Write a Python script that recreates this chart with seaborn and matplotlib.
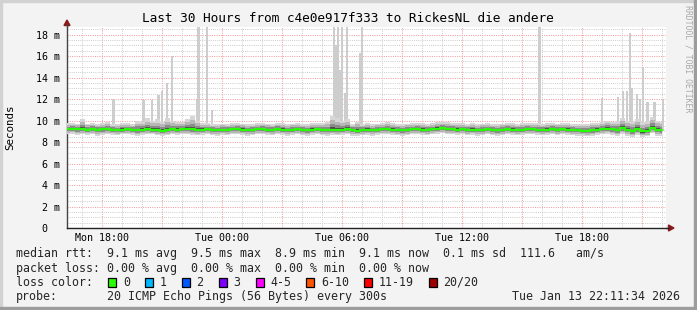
import numpy as np
import matplotlib
matplotlib.use("Agg")
import matplotlib.pyplot as plt
import seaborn as sns
from matplotlib.patches import Rectangle, Polygon
from matplotlib.ticker import MultipleLocator

# ---------------- data ----------------
title = "Last 30 Hours from c4e0e917f333 to RickesNL die andere"
start_hour = 16.25          # Mon 16:15, hours since Mon 00:00
step_hours = 0.25

med = [9.20, 9.22, 9.18, 9.21, 9.15, 9.20, 9.12, 9.17, 9.20, 9.14,
       9.10, 9.15, 9.18, 9.12, 9.08, 9.14, 9.20, 9.16, 9.10, 9.05,
       9.12, 9.18, 9.15, 9.22, 9.25, 9.18, 9.12, 9.16, 9.20, 9.14,
       9.10, 9.15, 9.12, 9.18, 9.22, 9.16, 9.10, 9.12, 9.18, 9.20,
       9.15, 9.12, 9.20, 9.16, 9.10, 9.14, 9.18, 9.12, 9.08, 9.15,
       9.18, 9.14, 9.10, 9.16, 9.12, 9.15, 9.20, 9.10, 9.05, 9.12,
       9.15, 9.10, 9.14, 9.18, 9.22, 9.15, 9.12, 9.08, 9.14, 9.18,
       9.20, 9.15, 9.12, 9.18, 9.25, 9.28, 9.22, 9.20, 9.15, 9.18,
       9.12, 9.16, 9.10, 9.14, 9.18, 9.12, 9.08, 9.14, 9.20, 9.16,
       9.12, 9.15, 9.20, 9.18, 9.15, 9.12, 9.16, 9.20, 9.14, 9.18,
       9.15, 9.12, 9.10, 9.05, 9.02, 9.08, 9.15, 9.20, 9.25, 9.18,
       9.10, 9.30, 9.15, 9.00, 9.20, 8.98, 9.05, 9.35, 9.12, 9.10]

smoke_lo = [8.70, 8.75, 8.68, 8.72, 8.65, 8.70, 8.60, 8.68, 8.72, 8.66,
            8.62, 8.70, 8.72, 8.66, 8.58, 8.65, 8.72, 8.70, 8.62, 8.55,
            8.64, 8.70, 8.66, 8.74, 8.72, 8.68, 8.62, 8.66, 8.70, 8.64,
            8.60, 8.68, 8.62, 8.70, 8.74, 8.66, 8.60, 8.64, 8.70, 8.72,
            8.66, 8.62, 8.72, 8.68, 8.60, 8.65, 8.70, 8.62, 8.58, 8.66,
            8.70, 8.64, 8.60, 8.68, 8.62, 8.66, 8.72, 8.60, 8.55, 8.62,
            8.66, 8.60, 8.65, 8.70, 8.74, 8.66, 8.62, 8.58, 8.64, 8.70,
            8.72, 8.66, 8.62, 8.70, 8.76, 8.80, 8.72, 8.70, 8.66, 8.70,
            8.62, 8.68, 8.60, 8.64, 8.70, 8.62, 8.58, 8.64, 8.72, 8.66,
            8.62, 8.66, 8.72, 8.70, 8.66, 8.62, 8.68, 8.72, 8.64, 8.70,
            8.66, 8.62, 8.60, 8.55, 8.52, 8.58, 8.66, 8.72, 8.75, 8.68,
            8.55, 8.75, 8.60, 8.50, 8.65, 8.45, 8.52, 8.80, 8.60, 8.58]

smoke_hi = [9.75, 9.80, 9.70, 10.10, 9.72, 9.78, 9.68, 9.75, 9.85, 9.70,
            9.65, 9.75, 9.80, 9.70, 9.95, 9.90, 10.20, 10.00, 10.10, 9.90,
            10.20, 10.00, 9.85, 9.90, 10.10, 10.40, 10.00, 9.80, 9.75, 9.70,
            9.68, 9.72, 9.70, 9.75, 9.80, 9.72, 9.66, 9.70, 9.76, 9.80,
            9.72, 9.70, 9.80, 9.75, 9.68, 9.72, 9.78, 9.70, 9.65, 9.75,
            9.80, 9.75, 9.90, 10.40, 10.20, 10.00, 10.10, 9.70, 9.90, 9.70,
            9.75, 9.68, 9.72, 9.78, 9.82, 9.75, 9.70, 9.66, 9.72, 9.78,
            9.80, 9.75, 9.70, 9.78, 9.85, 9.90, 9.82, 9.80, 9.75, 9.78,
            9.70, 9.75, 9.68, 9.72, 9.78, 9.70, 9.66, 9.72, 9.80, 9.75,
            9.70, 9.74, 9.80, 9.78, 9.74, 9.70, 9.76, 9.80, 9.72, 9.78,
            9.75, 9.70, 9.68, 9.65, 9.70, 9.75, 9.80, 9.90, 9.95, 9.85,
            9.95, 10.20, 10.00, 9.90, 10.10, 9.85, 9.95, 10.30, 10.00, 9.90]

spike_hours = [18.57, 20.07, 20.49, 20.82, 20.99, 21.24, 21.49, 22.74, 22.82,
               23.24, 23.49, 29.60, 29.70, 29.80, 29.90, 30.00, 30.15, 30.24,
               30.90, 30.99, 39.87, 42.99, 43.80, 44.05, 44.25, 44.40, 44.49,
               44.74, 44.90, 45.04, 45.27, 45.62, 46.03]
spike_ms = [12.0, 11.9, 11.9, 12.4, 12.7, 13.5, 16.0, 11.9, 18.7,
            18.7, 11.0, 18.7, 17.0, 18.7, 14.7, 18.7, 12.6, 18.7,
            16.3, 18.7, 18.7, 12.1, 12.2, 12.7, 12.7, 18.1, 13.0,
            12.5, 12.0, 14.9, 11.7, 11.7, 12.0]

x_grid_hours = [18, 21, 24, 27, 30, 33, 36, 39, 42, 45]
x_tick_labels = ["Mon 18:00", "", "Tue 00:00", "", "Tue 06:00", "",
                 "Tue 12:00", "", "Tue 18:00", ""]
y_ticks = [0, 2, 4, 6, 8, 10, 12, 14, 16, 18]
y_tick_labels = ["0\u00a0\u00a0", "2 m", "4 m", "6 m", "8 m", "10 m",
                 "12 m", "14 m", "16 m", "18 m"]

rtt_values = [9.1, 9.5, 8.9, 9.1]
rtt_names = ["avg", "max", "min", "now"]
rtt_sd = 0.1
am_s = 111.6
loss_values = [0.00, 0.00, 0.00, 0.00]
loss_labels = ["0", "1", "2", "3", "4-5", "6-10", "11-19", "20/20"]
loss_colors = ["#26ff00", "#00b8ff", "#0059ff", "#7e00ff", "#ff00ff",
               "#ff5500", "#ff0000", "#a10000"]
probe_text = "20 ICMP Echo Pings (56 Bytes) every 300s"
timestamp = "Tue Jan 13 22:11:34 2026"

# ---------------- style ----------------
sns.set_theme(style="white")
plt.rcParams["font.family"] = ["DejaVu Sans Mono"]

W, H = 697, 310
BG = "#f3f3f3"
fig = plt.figure(figsize=(W / 100, H / 100), dpi=100, facecolor=BG)


def fx(px):
    return px / W


def fy(py):
    return 1 - py / H


ax_l, ax_r, ax_t, ax_b = 67, 666, 27, 228
ax = fig.add_axes([fx(ax_l), fy(ax_b), (ax_r - ax_l) / W, (ax_b - ax_t) / H])
ax.set_facecolor("white")

hours = start_hour + step_hours * np.arange(len(med))
med_a = np.array(med)
lo_a = np.array(smoke_lo)
hi_a = np.array(smoke_hi)

# spikes (behind smoke)
base = 9.0
ax.bar(spike_hours, np.array(spike_ms) - base, bottom=base, width=0.11,
       color="#cdcdcd", linewidth=0, zorder=2)

# smoke layers, darker toward median
for frac, col in [(1.0, "#d6d6d6"), (0.7, "#b6b6b6"), (0.42, "#8a8a8a"),
                  (0.18, "#4a4a4a")]:
    ax.fill_between(hours, med_a - frac * (med_a - lo_a),
                    med_a + frac * (hi_a - med_a), step="mid", color=col,
                    linewidth=0, zorder=3)

sns.lineplot(x=hours, y=med_a, ax=ax, color="#26ff00", linewidth=1.6,
             drawstyle="steps-mid", zorder=5, legend=False)

ax.set_xlim(16.25, 46.2)
ax.set_ylim(0, 18.7)

ax.set_xticks(x_grid_hours)
ax.set_xticklabels(x_tick_labels)
ax.xaxis.set_minor_locator(MultipleLocator(1))
ax.set_yticks(y_ticks)
ax.set_yticklabels(y_tick_labels)
ax.yaxis.set_minor_locator(MultipleLocator(0.5))

ax.set_axisbelow(True)
ax.grid(which="minor", color="#cccccc", linestyle=(0, (1, 1.2)), linewidth=0.7)
ax.grid(which="major", color="#f2a0a0", linestyle=(0, (1, 1.2)), linewidth=0.75)

for s in ["top", "right"]:
    ax.spines[s].set_visible(False)
ax.spines["left"].set_color("#444444")
ax.spines["bottom"].set_color("#222222")
ax.spines["left"].set_linewidth(1.0)
ax.spines["bottom"].set_linewidth(1.0)

ax.tick_params(axis="y", which="major", length=3, width=0.8, color="#444444",
               pad=2.2, labelsize=7.2, labelcolor="black")
ax.tick_params(axis="y", which="minor", length=0)
ax.tick_params(axis="x", which="both", length=0, pad=3.6, labelsize=7.2,
               labelcolor="black")
ax.set_xlabel("")
ax.set_ylabel("")

# axis arrows
arrow_col = "#8b1a1a"
fig.add_artist(Polygon([(fx(64), fy(25.5)), (fx(70), fy(25.5)), (fx(67), fy(20))],
                       closed=True, color=arrow_col, transform=fig.transFigure))
fig.add_artist(plt.Line2D([fx(67), fx(67)], [fy(27), fy(24)], color="#444444",
                          lw=1.0, transform=fig.transFigure))
fig.add_artist(plt.Line2D([fx(666), fx(669)], [fy(228), fy(228)], color="#222222",
                          lw=1.0, transform=fig.transFigure))
fig.add_artist(Polygon([(fx(668.5), fy(225)), (fx(668.5), fy(231)), (fx(674), fy(228))],
                       closed=True, color=arrow_col, transform=fig.transFigure))

# title and labels
fig.text(fx(348), fy(19), title, ha="center", va="center", fontsize=9.2,
         color="black")
fig.text(fx(10), fy(127), "Seconds", ha="center", va="center", rotation=90,
         fontsize=7.8, color="black")
fig.text(fx(688), fy(5), "RRDTOOL / TOBI OETIKER", ha="center", va="top",
         rotation=270, fontsize=5.9, color="#a9a9a9")

# legend rows
LF = 8.37
rows = [254, 268.3, 282, 296.5]
rtt_line = "median rtt:  " + "  ".join(
    f"{v:.1f} ms {n}" for v, n in zip(rtt_values, rtt_names)) + \
    f"  {rtt_sd:.1f} ms sd  {am_s:.1f}   am/s"
loss_line = "packet loss: " + "  ".join(
    f"{v:.2f} % {n}" for v, n in zip(loss_values, rtt_names))
fig.text(fx(16), fy(rows[0]), rtt_line, ha="left", va="center", fontsize=LF)
fig.text(fx(16), fy(rows[1]), loss_line, ha="left", va="center", fontsize=LF)
fig.text(fx(16), fy(rows[2]), "loss color:", ha="left", va="center", fontsize=LF)

cw = 7.0
bx = 108.3
for lab, col in zip(loss_labels, loss_colors):
    fig.add_artist(Rectangle((fx(bx), fy(286.5)), 8 / W, 8.5 / H,
                             facecolor=col, edgecolor="black", linewidth=0.9,
                             transform=fig.transFigure))
    fig.text(fx(bx + 14.5), fy(rows[2]), lab, ha="left", va="center", fontsize=LF)
    bx = bx + 14.5 + cw * len(lab) + 15.3

fig.text(fx(16), fy(rows[3]), "probe:", ha="left", va="center", fontsize=LF)
fig.text(fx(107), fy(rows[3]), probe_text, ha="left", va="center", fontsize=LF)
fig.text(fx(680), fy(rows[3]), timestamp, ha="right", va="center", fontsize=LF)

# 3D-ish frame
fig.add_artist(Rectangle((0, 1 - 2 / H), 1, 2 / H, color="#d2d2d2",
                         transform=fig.transFigure, zorder=0))
fig.add_artist(Rectangle((0, 0), 2 / W, 1, color="#d2d2d2",
                         transform=fig.transFigure, zorder=0))
fig.add_artist(Rectangle((0, 0), 1, 3 / H, color="#9c9c9c",
                         transform=fig.transFigure, zorder=0))
fig.add_artist(Rectangle((1 - 3 / W, 0), 3 / W, 1, color="#9c9c9c",
                         transform=fig.transFigure, zorder=0))

fig.savefig("out.png", dpi=100, facecolor=BG)
